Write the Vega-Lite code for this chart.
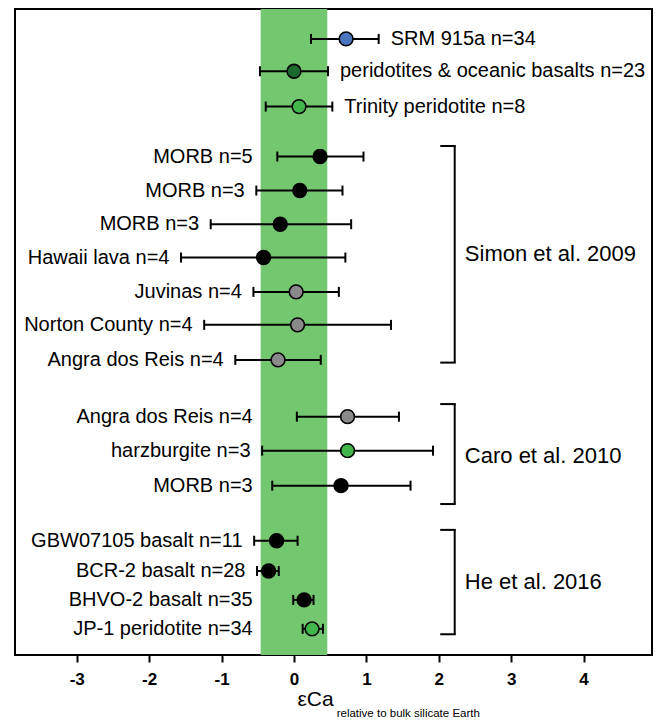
{
  "$schema": "https://vega.github.io/schema/vega-lite/v6.json",
  "width": 637,
  "height": 646,
  "autosize": "none",
  "padding": {"left": 15, "top": 9, "right": 7, "bottom": 66},
  "config": {
    "view": {"stroke": "#000000", "strokeWidth": 2},
    "font": "Liberation Sans"
  },
  "datasets": {
    "samples": [
      {"label": "SRM 915a n=34", "mean": 0.72, "lo": 0.235, "hi": 1.17, "y": 0.88, "type": "standard", "source": "this study"},
      {"label": "peridotites & oceanic basalts n=23", "mean": 0.0, "lo": -0.47, "hi": 0.47, "y": 1.83, "type": "mantle mean", "source": "this study"},
      {"label": "Trinity peridotite n=8", "mean": 0.07, "lo": -0.39, "hi": 0.53, "y": 2.87, "type": "peridotite", "source": "this study"},
      {"label": "MORB n=5", "mean": 0.36, "lo": -0.23, "hi": 0.96, "y": 4.34, "type": "basalt", "source": "Simon et al. 2009"},
      {"label": "MORB n=3", "mean": 0.08, "lo": -0.52, "hi": 0.67, "y": 5.34, "type": "basalt", "source": "Simon et al. 2009"},
      {"label": "MORB n=3", "mean": -0.19, "lo": -1.15, "hi": 0.79, "y": 6.33, "type": "basalt", "source": "Simon et al. 2009"},
      {"label": "Hawaii lava n=4", "mean": -0.42, "lo": -1.56, "hi": 0.71, "y": 7.31, "type": "basalt", "source": "Simon et al. 2009"},
      {"label": "Juvinas n=4", "mean": 0.03, "lo": -0.56, "hi": 0.62, "y": 8.32, "type": "meteorite", "source": "Simon et al. 2009"},
      {"label": "Norton County n=4", "mean": 0.05, "lo": -1.24, "hi": 1.34, "y": 9.29, "type": "meteorite", "source": "Simon et al. 2009"},
      {"label": "Angra dos Reis n=4", "mean": -0.22, "lo": -0.81, "hi": 0.37, "y": 10.32, "type": "meteorite", "source": "Simon et al. 2009"},
      {"label": "Angra dos Reis n=4", "mean": 0.74, "lo": 0.04, "hi": 1.45, "y": 11.99, "type": "meteorite", "source": "Caro et al. 2010"},
      {"label": "harzburgite n=3", "mean": 0.74, "lo": -0.44, "hi": 1.92, "y": 12.99, "type": "peridotite", "source": "Caro et al. 2010"},
      {"label": "MORB n=3", "mean": 0.65, "lo": -0.3, "hi": 1.61, "y": 14.02, "type": "basalt", "source": "Caro et al. 2010"},
      {"label": "GBW07105 basalt n=11", "mean": -0.24, "lo": -0.55, "hi": 0.05, "y": 15.64, "type": "basalt", "source": "He et al. 2016"},
      {"label": "BCR-2 basalt n=28", "mean": -0.35, "lo": -0.51, "hi": -0.21, "y": 16.53, "type": "basalt", "source": "He et al. 2016"},
      {"label": "BHVO-2 basalt n=35", "mean": 0.14, "lo": -0.01, "hi": 0.27, "y": 17.38, "type": "basalt", "source": "He et al. 2016"},
      {"label": "JP-1 peridotite n=34", "mean": 0.25, "lo": 0.12, "hi": 0.4, "y": 18.23, "type": "peridotite", "source": "He et al. 2016"}
    ],
    "brackets": [
      {"source": "Simon et al. 2009", "top": 4.03, "bottom": 10.4, "mid": 7.2},
      {"source": "Caro et al. 2010", "top": 11.62, "bottom": 14.56, "mid": 13.14},
      {"source": "He et al. 2016", "top": 15.32, "bottom": 18.39, "mid": 16.84}
    ],
    "bse": [{"lo": -0.46, "hi": 0.46}]
  },
  "layer": [
    {
      "data": {"name": "samples"},
      "mark": {"type": "circle", "size": 0, "opacity": 0},
      "encoding": {
        "x": {
          "field": "mean", "type": "quantitative",
          "scale": {"domain": [-3.853, 4.945], "nice": false, "zero": false},
          "axis": {
            "values": [-3, -2, -1, 0, 1, 2, 3, 4],
            "labelExpr": "'' + datum.value",
            "labelFont": "Liberation Sans", "labelFontWeight": "bold", "labelFontSize": 17, "labelColor": "#000000",
            "labelPadding": 9,
            "tickColor": "#000000", "tickWidth": 2, "tickSize": 7,
            "domain": false, "grid": false,
            "title": "εCa",
            "titleFont": "Liberation Sans", "titleFontSize": 21, "titleFontWeight": "normal", "titleColor": "#000000",
            "titleX": 282, "titleY": 50, "titleAlign": "left", "titleAnchor": "start", "titleBaseline": "alphabetic"
          }
        },
        "y": {"field": "y", "type": "quantitative", "scale": {"domain": [0, 19], "reverse": true, "nice": false, "zero": false}, "axis": null}
      }
    },
    {
      "data": {"name": "bse"},
      "mark": {"type": "rect", "color": "#73c76e"},
      "encoding": {
        "x": {"field": "lo", "type": "quantitative"},
        "x2": {"field": "hi"}
      }
    },
    {
      "data": {"name": "brackets"},
      "mark": {"type": "rule", "strokeWidth": 2, "color": "#000000"},
      "encoding": {
        "x": {"datum": 2.22, "type": "quantitative"},
        "y": {"field": "top", "type": "quantitative", "axis": null},
        "y2": {"field": "bottom"}
      }
    },
    {
      "data": {"name": "brackets"},
      "mark": {"type": "rule", "strokeWidth": 2, "color": "#000000"},
      "encoding": {
        "x": {"datum": 2.02, "type": "quantitative"},
        "x2": {"datum": 2.235},
        "y": {"field": "top", "type": "quantitative", "axis": null}
      }
    },
    {
      "data": {"name": "brackets"},
      "mark": {"type": "rule", "strokeWidth": 2, "color": "#000000"},
      "encoding": {
        "x": {"datum": 2.02, "type": "quantitative"},
        "x2": {"datum": 2.235},
        "y": {"field": "bottom", "type": "quantitative", "axis": null}
      }
    },
    {
      "data": {"name": "brackets"},
      "mark": {"type": "text", "align": "left", "baseline": "middle", "fontSize": 22, "color": "#000000", "font": "Liberation Sans"},
      "encoding": {
        "x": {"datum": 2.36, "type": "quantitative"},
        "y": {"field": "mid", "type": "quantitative", "axis": null},
        "text": {"field": "source"}
      }
    },
    {
      "data": {"name": "samples"},
      "mark": {"type": "rule", "strokeWidth": 2, "color": "#000000"},
      "encoding": {
        "x": {"field": "lo", "type": "quantitative"},
        "x2": {"field": "hi"},
        "y": {"field": "y", "type": "quantitative", "axis": null}
      }
    },
    {
      "data": {"name": "samples"},
      "mark": {"type": "tick", "orient": "vertical", "size": 10, "thickness": 2, "color": "#000000", "opacity": 1},
      "encoding": {
        "x": {"field": "lo", "type": "quantitative"},
        "y": {"field": "y", "type": "quantitative", "axis": null}
      }
    },
    {
      "data": {"name": "samples"},
      "mark": {"type": "tick", "orient": "vertical", "size": 10, "thickness": 2, "color": "#000000", "opacity": 1},
      "encoding": {
        "x": {"field": "hi", "type": "quantitative"},
        "y": {"field": "y", "type": "quantitative", "axis": null}
      }
    },
    {
      "data": {"name": "samples"},
      "mark": {"type": "circle", "size": 190, "stroke": "#000000", "strokeWidth": 1.6, "opacity": 1},
      "encoding": {
        "x": {"field": "mean", "type": "quantitative"},
        "y": {"field": "y", "type": "quantitative", "axis": null},
        "fill": {
          "field": "type", "type": "nominal", "legend": null,
          "scale": {
            "domain": ["standard", "mantle mean", "peridotite", "basalt", "meteorite"],
            "range": ["#4a76bf", "#1c6b2e", "#3fb54a", "#000000", "#8a8a8a"]
          }
        }
      }
    },
    {
      "data": {"name": "samples"},
      "transform": [
        {"filter": "datum.source !== 'this study'"},
        {"calculate": "min(datum.lo - 0.16, -0.57)", "as": "labelEnd"}
      ],
      "mark": {"type": "text", "align": "right", "baseline": "middle", "fontSize": 20, "color": "#000000", "font": "Liberation Sans"},
      "encoding": {
        "x": {"field": "labelEnd", "type": "quantitative"},
        "y": {"field": "y", "type": "quantitative", "axis": null},
        "text": {"field": "label"}
      }
    },
    {
      "data": {"name": "samples"},
      "transform": [{"filter": "datum.source === 'this study'"}],
      "mark": {"type": "text", "align": "left", "baseline": "middle", "dx": 12, "fontSize": 20, "color": "#000000", "font": "Liberation Sans"},
      "encoding": {
        "x": {"field": "hi", "type": "quantitative"},
        "y": {"field": "y", "type": "quantitative", "axis": null},
        "text": {"field": "label"}
      }
    },
    {
      "data": {"values": [{"text": "relative to bulk silicate Earth", "x": 0.59, "y": 20.82}]},
      "mark": {"type": "text", "align": "left", "baseline": "alphabetic", "fontSize": 11.5, "color": "#000000", "font": "Liberation Sans"},
      "encoding": {
        "x": {"field": "x", "type": "quantitative"},
        "y": {"field": "y", "type": "quantitative", "axis": null},
        "text": {"field": "text"}
      }
    }
  ]
}
